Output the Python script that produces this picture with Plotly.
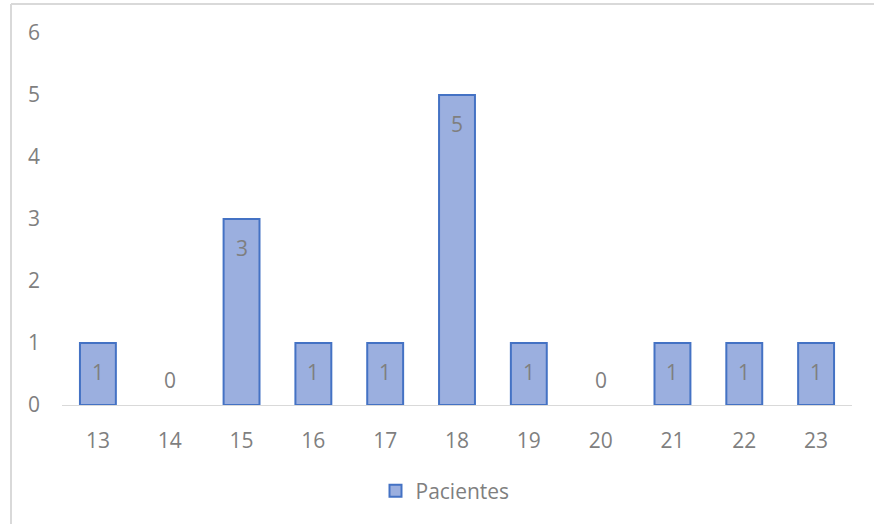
import plotly.graph_objects as go

categories = ["13", "14", "15", "16", "17", "18", "19", "20", "21", "22", "23"]
pacientes = [1, 0, 3, 1, 1, 5, 1, 0, 1, 1, 1]
y_ticks = [0, 1, 2, 3, 4, 5, 6]
series_name = "Pacientes"

FONT = "Open Sans, Liberation Sans, sans-serif"
GRAY = "#7f7f7f"
FS = 21

fig = go.Figure()
fig.add_trace(go.Bar(
    x=categories, y=pacientes, name=series_name,
    marker=dict(color="#9bafdf",
                line=dict(color="#4472c4", width=[2 if v > 0 else 0 for v in pacientes])),
    hoverinfo="x+y",
))

annotations = []
for i, v in enumerate(pacientes):
    annotations.append(dict(
        x=i, y=v, xref="x", yref="y", text=str(v), showarrow=False,
        yshift=(-29 if v > 0 else 25),
        font=dict(family=FONT, size=FS, color=GRAY),
    ))

# chart border (left and top visible)
L, W, T, H = 62, 790, 33, 372
def px(p):
    return (p - L) / W
def py(p):
    return (T + H - p) / H

shapes = [
    dict(type="line", xref="paper", yref="paper", x0=px(11), x1=px(11), y0=py(4), y1=py(530),
         line=dict(color="#d9d9d9", width=2)),
    dict(type="line", xref="paper", yref="paper", x0=px(11), x1=px(880), y0=py(4), y1=py(4),
         line=dict(color="#d9d9d9", width=2)),
]

fig.update_layout(
    width=874, height=524,
    margin=dict(l=L, r=874 - L - W, t=T, b=524 - T - H),
    paper_bgcolor="white", plot_bgcolor="white",
    bargap=0.5,
    font=dict(family=FONT, size=FS, color=GRAY),
    showlegend=True,
    legend=dict(orientation="h", x=px(445), xanchor="center", y=py(491), yanchor="middle",
                font=dict(family=FONT, size=FS, color=GRAY)),
    annotations=annotations,
    shapes=shapes,
    xaxis=dict(type="category", range=[-0.5, len(categories) - 0.5], showgrid=False,
               showline=True, linecolor="#d9d9d9", linewidth=1,
               ticks="", ticklabelstandoff=17, tickfont=dict(family=FONT, size=FS, color=GRAY)),
    yaxis=dict(range=[0, 6], tickvals=y_ticks, showgrid=False, zeroline=False, showline=False,
               ticks="", ticklabelstandoff=21, tickfont=dict(family=FONT, size=FS, color=GRAY)),
)

fig.write_html("out.html")
